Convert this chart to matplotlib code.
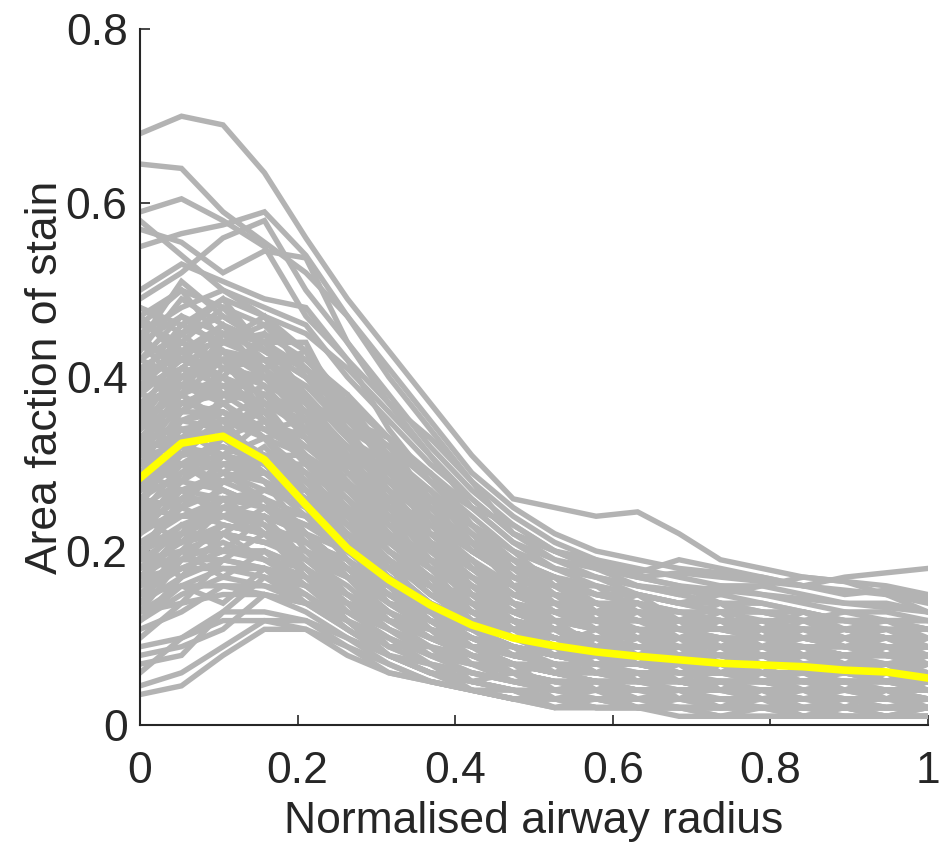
import matplotlib
matplotlib.use("Agg")
import matplotlib.pyplot as plt

# x positions (normalised airway radius), 20 bins
radius = [0.0, 0.0526, 0.1053, 0.1579, 0.2105, 0.2632, 0.3158, 0.3684, 0.4211, 0.4737,
          0.5263, 0.5789, 0.6316, 0.6842, 0.7368, 0.7895, 0.8421, 0.8947, 0.9474, 1.0]

# mean curve (yellow)
mean_curve = [0.284, 0.324, 0.332, 0.305, 0.253, 0.203, 0.167, 0.138, 0.115, 0.100,
              0.091, 0.084, 0.079, 0.075, 0.071, 0.069, 0.067, 0.063, 0.061, 0.054]

# individual airway profiles (gray)
g01 = [0.68,0.70,0.69,0.635,0.56,0.49,0.43,0.37,0.31,0.26,0.25,0.24,0.245,0.22,0.19,0.18,0.17,0.165,0.16,0.15]
g02 = [0.645,0.64,0.59,0.555,0.52,0.47,0.41,0.35,0.29,0.25,0.22,0.20,0.19,0.18,0.175,0.17,0.16,0.155,0.15,0.14]
g03 = [0.59,0.605,0.58,0.55,0.47,0.42,0.37,0.33,0.28,0.24,0.21,0.19,0.17,0.16,0.155,0.15,0.145,0.14,0.135,0.13]
g04 = [0.55,0.565,0.575,0.59,0.54,0.47,0.40,0.34,0.28,0.22,0.20,0.18,0.17,0.175,0.17,0.165,0.16,0.17,0.175,0.18]
g05 = [0.57,0.555,0.52,0.545,0.537,0.44,0.38,0.32,0.27,0.23,0.20,0.185,0.175,0.19,0.18,0.17,0.16,0.15,0.155,0.145]
g06 = [0.58,0.54,0.50,0.48,0.46,0.40,0.35,0.30,0.26,0.22,0.19,0.17,0.16,0.155,0.15,0.16,0.17,0.165,0.15,0.13]
g07 = [0.49,0.52,0.56,0.58,0.50,0.44,0.37,0.31,0.25,0.21,0.18,0.16,0.15,0.14,0.15,0.14,0.13,0.12,0.12,0.11]
g08 = [0.50,0.53,0.51,0.49,0.48,0.42,0.34,0.28,0.23,0.19,0.17,0.15,0.14,0.13,0.12,0.12,0.11,0.11,0.10,0.10]
g09 = [0.47,0.50,0.48,0.46,0.43,0.37,0.33,0.29,0.25,0.21,0.19,0.18,0.17,0.16,0.14,0.13,0.12,0.13,0.12,0.11]
g10 = [0.45,0.48,0.50,0.47,0.43,0.36,0.30,0.25,0.20,0.17,0.15,0.14,0.13,0.12,0.11,0.11,0.10,0.10,0.09,0.09]
g11 = [0.44,0.47,0.45,0.43,0.40,0.34,0.28,0.23,0.19,0.16,0.14,0.13,0.12,0.11,0.10,0.10,0.09,0.09,0.09,0.08]
g12 = [0.42,0.45,0.47,0.44,0.38,0.31,0.26,0.21,0.17,0.14,0.12,0.11,0.10,0.10,0.09,0.09,0.08,0.08,0.08,0.07]
g13 = [0.40,0.43,0.44,0.42,0.37,0.32,0.27,0.22,0.18,0.15,0.13,0.12,0.11,0.10,0.10,0.09,0.09,0.08,0.08,0.08]
g14 = [0.38,0.42,0.43,0.40,0.35,0.29,0.24,0.20,0.16,0.13,0.11,0.10,0.09,0.09,0.08,0.08,0.07,0.07,0.07,0.06]
g15 = [0.36,0.40,0.42,0.41,0.36,0.31,0.26,0.21,0.17,0.14,0.12,0.11,0.10,0.09,0.09,0.08,0.08,0.08,0.07,0.07]
g16 = [0.35,0.38,0.40,0.38,0.33,0.27,0.22,0.18,0.15,0.12,0.10,0.09,0.08,0.08,0.07,0.07,0.07,0.06,0.06,0.06]
g17 = [0.34,0.37,0.38,0.35,0.30,0.25,0.20,0.16,0.13,0.11,0.09,0.08,0.08,0.07,0.07,0.06,0.06,0.06,0.05,0.05]
g18 = [0.33,0.36,0.39,0.37,0.34,0.29,0.25,0.21,0.18,0.15,0.13,0.12,0.11,0.10,0.10,0.09,0.09,0.09,0.08,0.08]
g19 = [0.32,0.35,0.36,0.33,0.29,0.24,0.19,0.15,0.12,0.10,0.09,0.08,0.07,0.07,0.06,0.06,0.06,0.05,0.05,0.05]
g20 = [0.31,0.34,0.35,0.34,0.31,0.27,0.23,0.19,0.16,0.13,0.11,0.10,0.09,0.09,0.08,0.08,0.07,0.07,0.07,0.07]
g21 = [0.30,0.33,0.34,0.31,0.27,0.22,0.18,0.14,0.11,0.09,0.08,0.07,0.06,0.06,0.06,0.05,0.05,0.05,0.05,0.04]
g22 = [0.29,0.32,0.35,0.33,0.28,0.23,0.19,0.16,0.13,0.11,0.10,0.09,0.08,0.08,0.07,0.07,0.07,0.06,0.06,0.06]
g23 = [0.28,0.31,0.32,0.30,0.26,0.21,0.17,0.13,0.10,0.08,0.07,0.06,0.06,0.05,0.05,0.05,0.04,0.04,0.04,0.04]
g24 = [0.27,0.30,0.33,0.31,0.28,0.24,0.20,0.17,0.14,0.12,0.10,0.09,0.09,0.08,0.08,0.07,0.07,0.07,0.06,0.06]
g25 = [0.26,0.29,0.30,0.28,0.24,0.19,0.15,0.12,0.09,0.07,0.06,0.05,0.05,0.05,0.04,0.04,0.04,0.04,0.03,0.03]
g26 = [0.25,0.28,0.31,0.30,0.27,0.23,0.19,0.15,0.12,0.10,0.09,0.08,0.07,0.07,0.06,0.06,0.06,0.06,0.05,0.05]
g27 = [0.24,0.27,0.28,0.26,0.22,0.18,0.14,0.11,0.08,0.07,0.06,0.05,0.05,0.04,0.04,0.04,0.04,0.03,0.03,0.03]
g28 = [0.23,0.26,0.29,0.28,0.26,0.22,0.18,0.14,0.11,0.09,0.08,0.07,0.07,0.06,0.06,0.06,0.05,0.05,0.05,0.05]
g29 = [0.22,0.25,0.27,0.25,0.21,0.17,0.13,0.10,0.08,0.06,0.05,0.05,0.04,0.04,0.04,0.03,0.03,0.03,0.03,0.03]
g30 = [0.21,0.24,0.26,0.26,0.24,0.20,0.16,0.13,0.10,0.08,0.07,0.06,0.06,0.05,0.05,0.05,0.05,0.04,0.04,0.04]
g31 = [0.20,0.23,0.25,0.23,0.19,0.15,0.12,0.09,0.07,0.05,0.04,0.04,0.03,0.03,0.03,0.03,0.02,0.02,0.02,0.02]
g32 = [0.19,0.22,0.24,0.24,0.22,0.18,0.15,0.12,0.09,0.07,0.06,0.05,0.05,0.05,0.04,0.04,0.04,0.04,0.04,0.03]
g33 = [0.18,0.21,0.23,0.22,0.18,0.14,0.11,0.08,0.06,0.05,0.04,0.03,0.03,0.03,0.02,0.02,0.02,0.02,0.02,0.02]
g34 = [0.17,0.20,0.22,0.21,0.20,0.17,0.14,0.11,0.09,0.07,0.06,0.06,0.05,0.05,0.05,0.04,0.04,0.04,0.04,0.04]
g35 = [0.16,0.19,0.21,0.19,0.16,0.12,0.09,0.07,0.05,0.04,0.03,0.03,0.02,0.02,0.02,0.02,0.02,0.02,0.01,0.01]
g36 = [0.15,0.18,0.20,0.20,0.18,0.15,0.12,0.10,0.08,0.06,0.05,0.05,0.04,0.04,0.04,0.04,0.03,0.03,0.03,0.03]
g37 = [0.14,0.17,0.19,0.18,0.15,0.11,0.08,0.06,0.05,0.04,0.03,0.03,0.02,0.02,0.02,0.02,0.01,0.01,0.01,0.01]
g38 = [0.13,0.16,0.18,0.17,0.16,0.13,0.10,0.08,0.06,0.05,0.05,0.04,0.04,0.03,0.03,0.03,0.03,0.03,0.03,0.02]
g39 = [0.12,0.15,0.17,0.16,0.14,0.11,0.08,0.06,0.05,0.04,0.03,0.03,0.03,0.02,0.02,0.02,0.02,0.02,0.02,0.02]
g40 = [0.11,0.13,0.16,0.16,0.15,0.12,0.09,0.07,0.06,0.05,0.04,0.04,0.03,0.03,0.03,0.03,0.03,0.02,0.02,0.02]
g41 = [0.09,0.10,0.12,0.12,0.11,0.08,0.06,0.05,0.04,0.03,0.03,0.02,0.02,0.02,0.02,0.02,0.02,0.01,0.01,0.01]
g42 = [0.08,0.09,0.11,0.15,0.13,0.10,0.08,0.06,0.05,0.04,0.04,0.03,0.03,0.03,0.03,0.02,0.02,0.02,0.02,0.02]
g43 = [0.07,0.08,0.13,0.17,0.14,0.11,0.08,0.06,0.04,0.03,0.03,0.02,0.02,0.02,0.02,0.02,0.02,0.02,0.02,0.02]
g44 = [0.045,0.06,0.09,0.12,0.12,0.10,0.07,0.05,0.04,0.03,0.03,0.02,0.02,0.02,0.02,0.02,0.02,0.02,0.02,0.02]
g45 = [0.035,0.045,0.08,0.11,0.11,0.09,0.07,0.05,0.04,0.03,0.02,0.02,0.02,0.02,0.01,0.01,0.01,0.01,0.01,0.01]
g46 = [0.06,0.10,0.13,0.13,0.12,0.09,0.06,0.05,0.04,0.03,0.02,0.02,0.02,0.01,0.01,0.01,0.01,0.01,0.01,0.01]
g47 = [0.40,0.46,0.49,0.47,0.45,0.41,0.36,0.31,0.26,0.22,0.20,0.19,0.18,0.17,0.16,0.16,0.15,0.14,0.14,0.13]
g48 = [0.48,0.46,0.44,0.45,0.42,0.38,0.33,0.28,0.24,0.20,0.18,0.17,0.16,0.15,0.16,0.15,0.14,0.13,0.13,0.12]
g49 = [0.37,0.41,0.45,0.44,0.41,0.35,0.30,0.26,0.22,0.19,0.17,0.16,0.15,0.14,0.13,0.13,0.12,0.12,0.11,0.11]
g50 = [0.43,0.49,0.46,0.42,0.38,0.33,0.29,0.25,0.21,0.18,0.16,0.15,0.14,0.13,0.12,0.12,0.11,0.11,0.10,0.10]
g51 = [0.34,0.39,0.43,0.42,0.39,0.34,0.28,0.24,0.20,0.17,0.15,0.14,0.13,0.12,0.12,0.11,0.11,0.10,0.10,0.10]
g52 = [0.46,0.44,0.41,0.40,0.39,0.35,0.32,0.28,0.25,0.23,0.20,0.18,0.16,0.15,0.14,0.14,0.13,0.12,0.12,0.12]
g53 = [0.41,0.44,0.42,0.39,0.34,0.28,0.23,0.18,0.15,0.12,0.10,0.09,0.09,0.08,0.08,0.07,0.07,0.07,0.06,0.06]
g54 = [0.39,0.41,0.40,0.36,0.31,0.26,0.21,0.17,0.14,0.12,0.11,0.10,0.09,0.09,0.08,0.08,0.08,0.07,0.07,0.07]
g55 = [0.37,0.39,0.37,0.34,0.32,0.28,0.24,0.20,0.16,0.13,0.11,0.10,0.09,0.08,0.08,0.07,0.07,0.07,0.07,0.06]
g56 = [0.35,0.36,0.36,0.33,0.28,0.23,0.18,0.14,0.11,0.09,0.08,0.07,0.07,0.06,0.06,0.06,0.05,0.05,0.05,0.05]
g57 = [0.33,0.34,0.33,0.31,0.29,0.26,0.22,0.18,0.15,0.12,0.10,0.09,0.08,0.08,0.07,0.07,0.07,0.06,0.06,0.06]
g58 = [0.31,0.32,0.31,0.29,0.25,0.20,0.16,0.12,0.10,0.08,0.07,0.06,0.06,0.05,0.05,0.05,0.05,0.04,0.04,0.04]
g59 = [0.29,0.30,0.30,0.29,0.27,0.24,0.20,0.16,0.13,0.11,0.09,0.08,0.08,0.07,0.07,0.06,0.06,0.06,0.06,0.05]
g60 = [0.27,0.28,0.27,0.25,0.22,0.18,0.14,0.11,0.09,0.07,0.06,0.05,0.05,0.05,0.04,0.04,0.04,0.04,0.04,0.04]
g61 = [0.25,0.26,0.26,0.25,0.23,0.20,0.17,0.14,0.11,0.09,0.08,0.07,0.07,0.06,0.06,0.06,0.05,0.05,0.05,0.05]
g62 = [0.23,0.24,0.24,0.22,0.19,0.16,0.12,0.10,0.08,0.06,0.05,0.05,0.04,0.04,0.04,0.04,0.03,0.03,0.03,0.03]
g63 = [0.21,0.22,0.22,0.21,0.20,0.18,0.15,0.12,0.10,0.08,0.07,0.06,0.06,0.06,0.05,0.05,0.05,0.05,0.05,0.04]
g64 = [0.19,0.20,0.20,0.19,0.17,0.14,0.11,0.09,0.07,0.06,0.05,0.04,0.04,0.04,0.03,0.03,0.03,0.03,0.03,0.03]
g65 = [0.17,0.18,0.18,0.18,0.17,0.15,0.13,0.11,0.09,0.08,0.07,0.06,0.06,0.05,0.05,0.05,0.05,0.05,0.04,0.04]
g66 = [0.15,0.16,0.16,0.15,0.14,0.12,0.10,0.08,0.07,0.06,0.05,0.05,0.04,0.04,0.04,0.04,0.04,0.03,0.03,0.03]
g67 = [0.13,0.14,0.15,0.15,0.14,0.13,0.11,0.09,0.08,0.07,0.06,0.06,0.05,0.05,0.05,0.05,0.04,0.04,0.04,0.04]
g68 = [0.44,0.42,0.40,0.38,0.36,0.32,0.28,0.24,0.20,0.17,0.15,0.14,0.13,0.12,0.12,0.11,0.11,0.11,0.10,0.10]
g69 = [0.42,0.40,0.38,0.37,0.35,0.30,0.25,0.21,0.18,0.15,0.13,0.12,0.12,0.11,0.11,0.10,0.10,0.10,0.09,0.09]
g70 = [0.38,0.37,0.39,0.40,0.38,0.33,0.27,0.22,0.18,0.15,0.14,0.13,0.12,0.11,0.11,0.10,0.10,0.09,0.09,0.09]
g71 = [0.46,0.50,0.44,0.47,0.40,0.36,0.29,0.27,0.22,0.17,0.16,0.13,0.14,0.12,0.11,0.12,0.10,0.11,0.10,0.09]
g72 = [0.41,0.38,0.45,0.41,0.43,0.33,0.30,0.22,0.21,0.16,0.13,0.13,0.11,0.11,0.10,0.09,0.10,0.09,0.08,0.09]
g73 = [0.36,0.43,0.40,0.45,0.37,0.34,0.25,0.24,0.18,0.16,0.12,0.12,0.10,0.10,0.09,0.09,0.08,0.08,0.08,0.07]
g74 = [0.32,0.38,0.42,0.36,0.38,0.29,0.27,0.20,0.19,0.14,0.13,0.11,0.11,0.09,0.10,0.08,0.09,0.08,0.07,0.08]
g75 = [0.28,0.35,0.37,0.39,0.33,0.31,0.23,0.21,0.15,0.14,0.11,0.10,0.09,0.09,0.08,0.08,0.07,0.07,0.07,0.06]
g76 = [0.25,0.33,0.36,0.34,0.35,0.27,0.24,0.18,0.16,0.12,0.11,0.09,0.09,0.08,0.07,0.08,0.07,0.06,0.07,0.06]
g77 = [0.22,0.29,0.33,0.35,0.30,0.28,0.21,0.19,0.14,0.12,0.09,0.09,0.08,0.07,0.07,0.06,0.06,0.06,0.05,0.06]
g78 = [0.19,0.26,0.30,0.31,0.31,0.24,0.22,0.16,0.14,0.10,0.09,0.08,0.07,0.07,0.06,0.06,0.05,0.06,0.05,0.05]
g79 = [0.17,0.22,0.28,0.29,0.26,0.25,0.18,0.16,0.12,0.10,0.08,0.07,0.07,0.06,0.06,0.05,0.05,0.05,0.05,0.04]
g80 = [0.14,0.20,0.25,0.27,0.27,0.21,0.19,0.13,0.11,0.09,0.07,0.07,0.06,0.05,0.05,0.05,0.04,0.05,0.04,0.04]
g81 = [0.12,0.17,0.22,0.25,0.23,0.22,0.16,0.13,0.10,0.08,0.07,0.06,0.05,0.05,0.04,0.04,0.04,0.04,0.04,0.03]
g82 = [0.10,0.14,0.19,0.22,0.22,0.18,0.16,0.11,0.09,0.07,0.06,0.05,0.05,0.04,0.04,0.04,0.03,0.04,0.03,0.03]
g83 = [0.48,0.45,0.49,0.43,0.41,0.37,0.31,0.29,0.23,0.20,0.16,0.16,0.13,0.13,0.12,0.11,0.11,0.10,0.10,0.10]
g84 = [0.44,0.51,0.47,0.44,0.44,0.35,0.33,0.25,0.23,0.18,0.17,0.14,0.14,0.12,0.12,0.11,0.11,0.10,0.11,0.10]
g85 = [0.39,0.44,0.48,0.43,0.40,0.38,0.29,0.26,0.20,0.18,0.14,0.14,0.12,0.12,0.11,0.11,0.10,0.10,0.09,0.09]
g86 = [0.34,0.40,0.44,0.46,0.41,0.36,0.32,0.26,0.22,0.18,0.16,0.14,0.13,0.12,0.12,0.11,0.11,0.10,0.10,0.10]
g87 = [0.30,0.36,0.41,0.42,0.42,0.37,0.30,0.27,0.21,0.19,0.15,0.14,0.13,0.12,0.11,0.11,0.10,0.10,0.10,0.09]
g88 = [0.26,0.31,0.38,0.40,0.37,0.35,0.31,0.24,0.21,0.16,0.15,0.12,0.12,0.11,0.10,0.10,0.09,0.09,0.09,0.08]
g89 = [0.23,0.28,0.34,0.37,0.36,0.32,0.27,0.24,0.18,0.16,0.13,0.12,0.11,0.10,0.10,0.09,0.09,0.08,0.08,0.08]
g90 = [0.20,0.25,0.31,0.33,0.34,0.30,0.26,0.21,0.18,0.14,0.13,0.11,0.10,0.10,0.09,0.09,0.08,0.08,0.08,0.07]
g91 = [0.37,0.35,0.34,0.36,0.32,0.30,0.26,0.23,0.20,0.17,0.15,0.13,0.13,0.12,0.11,0.11,0.10,0.11,0.10,0.10]
g92 = [0.33,0.31,0.32,0.30,0.30,0.27,0.24,0.21,0.18,0.15,0.14,0.13,0.12,0.11,0.11,0.10,0.10,0.09,0.10,0.09]
g93 = [0.29,0.27,0.29,0.27,0.26,0.23,0.21,0.18,0.16,0.14,0.12,0.12,0.11,0.10,0.10,0.09,0.10,0.09,0.09,0.08]
g94 = [0.25,0.24,0.25,0.24,0.22,0.20,0.18,0.16,0.14,0.12,0.11,0.10,0.10,0.09,0.09,0.09,0.08,0.08,0.08,0.08]
g95 = [0.21,0.21,0.22,0.21,0.19,0.17,0.15,0.13,0.12,0.11,0.10,0.09,0.09,0.08,0.08,0.08,0.07,0.07,0.07,0.07]
g96 = [0.18,0.19,0.19,0.18,0.16,0.14,0.12,0.11,0.10,0.09,0.08,0.08,0.07,0.07,0.07,0.06,0.06,0.06,0.06,0.06]
g97 = [0.42,0.47,0.43,0.41,0.37,0.30,0.26,0.22,0.19,0.15,0.14,0.12,0.12,0.10,0.10,0.09,0.09,0.08,0.09,0.08]
g98 = [0.38,0.45,0.41,0.39,0.33,0.28,0.22,0.19,0.15,0.13,0.11,0.10,0.09,0.09,0.08,0.08,0.07,0.07,0.07,0.07]
g99 = [0.35,0.41,0.39,0.36,0.30,0.25,0.20,0.16,0.13,0.11,0.10,0.09,0.08,0.08,0.07,0.07,0.07,0.06,0.06,0.06]
g100 = [0.31,0.37,0.36,0.33,0.27,0.22,0.17,0.14,0.11,0.09,0.08,0.07,0.07,0.06,0.06,0.06,0.05,0.05,0.05,0.05]
g101 = [0.27,0.33,0.34,0.30,0.25,0.19,0.15,0.12,0.09,0.08,0.07,0.06,0.06,0.05,0.05,0.05,0.05,0.04,0.04,0.04]
g102 = [0.24,0.30,0.31,0.28,0.22,0.17,0.13,0.10,0.08,0.07,0.06,0.05,0.05,0.05,0.04,0.04,0.04,0.04,0.04,0.03]
g103 = [0.20,0.26,0.29,0.26,0.20,0.15,0.11,0.08,0.07,0.06,0.05,0.05,0.04,0.04,0.04,0.03,0.03,0.03,0.03,0.03]
g104 = [0.16,0.22,0.26,0.23,0.18,0.13,0.10,0.07,0.06,0.05,0.04,0.04,0.03,0.03,0.03,0.03,0.03,0.03,0.02,0.02]
g105 = [0.13,0.19,0.23,0.22,0.17,0.12,0.08,0.06,0.05,0.04,0.03,0.03,0.03,0.02,0.02,0.02,0.02,0.02,0.02,0.02]
g106 = [0.45,0.40,0.42,0.39,0.37,0.34,0.31,0.27,0.23,0.20,0.18,0.17,0.15,0.14,0.14,0.13,0.12,0.12,0.12,0.11]
g107 = [0.40,0.38,0.35,0.38,0.34,0.31,0.28,0.25,0.21,0.19,0.17,0.15,0.14,0.13,0.13,0.12,0.12,0.11,0.11,0.11]
g108 = [0.47,0.43,0.46,0.44,0.38,0.33,0.28,0.24,0.21,0.18,0.17,0.15,0.15,0.14,0.13,0.13,0.13,0.12,0.12,0.12]
g109 = [0.35,0.33,0.37,0.33,0.31,0.27,0.22,0.19,0.17,0.15,0.13,0.13,0.12,0.12,0.11,0.12,0.11,0.11,0.10,0.10]
g110 = [0.28,0.30,0.28,0.31,0.28,0.24,0.20,0.17,0.14,0.12,0.11,0.10,0.10,0.09,0.09,0.09,0.09,0.08,0.08,0.08]
g111 = [0.24,0.27,0.26,0.27,0.25,0.22,0.17,0.14,0.12,0.10,0.09,0.09,0.08,0.08,0.08,0.07,0.07,0.07,0.07,0.07]
g112 = [0.20,0.22,0.24,0.23,0.21,0.18,0.14,0.12,0.10,0.09,0.08,0.07,0.07,0.07,0.06,0.06,0.06,0.06,0.06,0.05]
g113 = [0.16,0.18,0.20,0.20,0.18,0.15,0.12,0.10,0.08,0.07,0.07,0.06,0.06,0.05,0.05,0.05,0.05,0.05,0.05,0.05]
g114 = [0.32,0.30,0.27,0.25,0.24,0.21,0.19,0.16,0.14,0.13,0.12,0.11,0.10,0.10,0.09,0.09,0.09,0.08,0.08,0.08]
g115 = [0.26,0.25,0.23,0.22,0.21,0.19,0.16,0.14,0.12,0.11,0.10,0.09,0.09,0.08,0.08,0.08,0.08,0.07,0.07,0.07]
g116 = [0.30,0.28,0.33,0.29,0.27,0.22,0.19,0.15,0.13,0.10,0.11,0.08,0.10,0.07,0.09,0.06,0.08,0.06,0.07,0.05]
g117 = [0.22,0.27,0.24,0.26,0.21,0.19,0.14,0.13,0.09,0.09,0.06,0.08,0.05,0.07,0.04,0.06,0.04,0.05,0.03,0.05]
g118 = [0.36,0.31,0.35,0.30,0.29,0.23,0.22,0.16,0.15,0.11,0.12,0.09,0.11,0.08,0.10,0.08,0.09,0.07,0.09,0.07]
g119 = [0.18,0.23,0.20,0.24,0.19,0.17,0.12,0.11,0.07,0.07,0.04,0.05,0.03,0.04,0.02,0.04,0.02,0.03,0.02,0.03]
g120 = [0.41,0.36,0.40,0.35,0.33,0.27,0.25,0.19,0.17,0.13,0.14,0.11,0.13,0.10,0.12,0.09,0.11,0.09,0.10,0.08]
g121 = [0.27,0.32,0.29,0.32,0.27,0.24,0.18,0.16,0.11,0.11,0.08,0.10,0.07,0.09,0.06,0.08,0.06,0.07,0.05,0.07]
g122 = [0.33,0.38,0.34,0.37,0.31,0.28,0.21,0.18,0.13,0.12,0.09,0.11,0.08,0.10,0.07,0.09,0.07,0.08,0.06,0.08]
g123 = [0.15,0.20,0.17,0.20,0.16,0.14,0.09,0.09,0.05,0.06,0.03,0.04,0.02,0.03,0.02,0.03,0.01,0.02,0.01,0.02]
g124 = [0.44,0.39,0.43,0.37,0.36,0.29,0.27,0.21,0.19,0.15,0.15,0.12,0.14,0.11,0.13,0.10,0.12,0.10,0.11,0.09]
g125 = [0.24,0.21,0.26,0.22,0.22,0.17,0.16,0.12,0.11,0.08,0.09,0.06,0.08,0.05,0.07,0.05,0.06,0.04,0.06,0.04]
g126 = [0.39,0.43,0.38,0.41,0.35,0.31,0.24,0.21,0.16,0.14,0.11,0.13,0.10,0.12,0.09,0.11,0.08,0.10,0.08,0.10]
g127 = [0.20,0.17,0.22,0.19,0.18,0.14,0.13,0.10,0.09,0.06,0.07,0.04,0.06,0.03,0.05,0.03,0.04,0.02,0.04,0.02]
g128 = [0.47,0.42,0.46,0.40,0.38,0.31,0.29,0.23,0.21,0.16,0.17,0.13,0.15,0.12,0.14,0.11,0.13,0.11,0.12,0.10]
g129 = [0.12,0.16,0.14,0.18,0.14,0.12,0.08,0.07,0.04,0.04,0.02,0.03,0.02,0.02,0.01,0.02,0.01,0.02,0.01,0.02]
g130 = [0.29,0.34,0.31,0.35,0.30,0.26,0.20,0.17,0.12,0.12,0.09,0.10,0.08,0.09,0.07,0.08,0.06,0.07,0.06,0.07]

profiles = [g01, g02, g03, g04, g05, g06, g07, g08, g09, g10,
            g11, g12, g13, g14, g15, g16, g17, g18, g19, g20,
            g21, g22, g23, g24, g25, g26, g27, g28, g29, g30,
            g31, g32, g33, g34, g35, g36, g37, g38, g39, g40,
            g41, g42, g43, g44, g45, g46, g47, g48, g49, g50,
            g51, g52, g53, g54, g55, g56, g57, g58, g59, g60,
            g61, g62, g63, g64, g65, g66, g67, g68, g69, g70,
            g71, g72, g73, g74, g75, g76, g77, g78, g79, g80,
            g81, g82, g83, g84, g85, g86, g87, g88, g89, g90,
            g91, g92, g93, g94, g95, g96, g97, g98, g99, g100,
            g101, g102, g103, g104, g105, g106, g107, g108, g109, g110,
            g111, g112, g113, g114, g115, g116, g117, g118, g119, g120,
            g121, g122, g123, g124, g125, g126, g127, g128, g129, g130]

xticks = [0, 0.2, 0.4, 0.6, 0.8, 1.0]
xticklabels = ["0", "0.2", "0.4", "0.6", "0.8", "1"]
yticks = [0, 0.2, 0.4, 0.6, 0.8]
yticklabels = ["0", "0.2", "0.4", "0.6", "0.8"]

plt.rcParams['font.family'] = ['Liberation Sans', 'DejaVu Sans']
txt = '#262626'

fig = plt.figure(figsize=(9.4, 8.6), dpi=100)
ax = fig.add_axes([0.149, 0.157, 0.838, 0.809])

for p in profiles:
    ax.plot(radius, p, color='#b3b3b3', lw=3.9, solid_joinstyle='miter')
ax.plot(radius, mean_curve, color='#ffff00', lw=5.5)

ax.set_xlim(0, 1)
ax.set_ylim(0, 0.8)
ax.set_xticks(xticks)
ax.set_xticklabels(xticklabels)
ax.set_yticks(yticks)
ax.set_yticklabels(yticklabels)
for s in ['top', 'right']:
    ax.spines[s].set_visible(False)
for s in ['left', 'bottom']:
    ax.spines[s].set_color(txt)
    ax.spines[s].set_linewidth(1.5)
ax.tick_params(direction='in', length=7, width=1.2, colors=txt, labelsize=32)
ax.tick_params(axis='x', pad=19)
ax.tick_params(axis='y', pad=9)
ax.set_xlabel('Normalised airway radius', fontsize=32, color=txt, labelpad=6)
ax.set_ylabel('Area faction of stain', fontsize=32, color=txt, labelpad=0)

fig.savefig('out.png', dpi=100)
